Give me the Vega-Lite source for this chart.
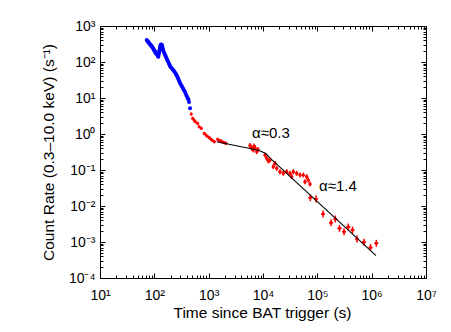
{
  "$schema": "https://vega.github.io/schema/vega-lite/v6.json",
  "width": 326,
  "height": 252,
  "autosize": "none",
  "padding": {"left": 100, "top": 26, "right": 25, "bottom": 54},
  "background": "white",
  "config": {
    "view": {"stroke": "black", "strokeWidth": 1},
    "font": "Liberation Sans",
    "axis": {
      "labelFont": "Liberation Sans", "labelFontSize": 14, "labelColor": "black",
      "titleFont": "Liberation Sans", "titleFontSize": 15.5, "titleFontWeight": "normal", "titleColor": "black",
      "tickColor": "black", "tickWidth": 1, "grid": false, "domain": false,
      "labelOverlap": false, "labelFlush": false, "labelBound": false
    }
  },
  "datasets": {
    "blue": [
      {"t": 72.4, "r": 408}, {"t": 74.5, "r": 390}, {"t": 76.5, "r": 371}, {"t": 78.0, "r": 352}, {"t": 79.8, "r": 337}, {"t": 82.0, "r": 318}, {"t": 85.0, "r": 306},
      {"t": 86.8, "r": 288}, {"t": 88.7, "r": 278}, {"t": 91.0, "r": 262}, {"t": 93.3, "r": 253}, {"t": 96.0, "r": 230}, {"t": 98.6, "r": 215}, {"t": 100.6, "r": 205}, {"t": 102.8, "r": 196},
      {"t": 105.0, "r": 182}, {"t": 107.3, "r": 172}, {"t": 111.0, "r": 163}, {"t": 114.4, "r": 156}, {"t": 116.3, "r": 147}, {"t": 118.3, "r": 140}, {"t": 120.1, "r": 158}, {"t": 121.9, "r": 178},
      {"t": 123.2, "r": 196}, {"t": 124.5, "r": 215}, {"t": 126.6, "r": 246}, {"t": 128.8, "r": 278}, {"t": 130.7, "r": 294}, {"t": 132.7, "r": 306}, {"t": 135.6, "r": 302}, {"t": 138.5, "r": 297},
      {"t": 140.5, "r": 265}, {"t": 142.6, "r": 237}, {"t": 145.0, "r": 215}, {"t": 147.5, "r": 196}, {"t": 151.3, "r": 181}, {"t": 155.2, "r": 167}, {"t": 159.5, "r": 152}, {"t": 164, "r": 138},
      {"t": 168.4, "r": 125}, {"t": 173, "r": 114}, {"t": 178.5, "r": 104}, {"t": 184, "r": 93.8}, {"t": 189, "r": 85.0}, {"t": 194, "r": 77.4}, {"t": 202, "r": 71.2}, {"t": 211, "r": 65.9},
      {"t": 220, "r": 61.0}, {"t": 230, "r": 56.2}, {"t": 240, "r": 51.0}, {"t": 250, "r": 46.4}, {"t": 258, "r": 42.0}, {"t": 267, "r": 38.3}, {"t": 274, "r": 34.8}, {"t": 281, "r": 31.6},
      {"t": 289, "r": 28.8}, {"t": 297, "r": 26.1}, {"t": 308, "r": 23.6}, {"t": 319, "r": 21.5}, {"t": 330, "r": 19.6}, {"t": 341, "r": 17.8}, {"t": 354, "r": 16.1}, {"t": 367, "r": 14.7},
      {"t": 380, "r": 12.9}, {"t": 394, "r": 11.4}, {"t": 408, "r": 10.2}, {"t": 422, "r": 9.2}, {"t": 435, "r": 7.74}, {"t": 454, "r": 5.18}
    ],
    "red": [
      {"t": 479, "r": 3.59, "tlo": 465, "thi": 493, "rlo": 3.26, "rhi": 3.95},
      {"t": 508, "r": 2.73, "tlo": 493, "thi": 523, "rlo": 2.48, "rhi": 3.0},
      {"t": 537, "r": 2.45, "tlo": 521, "thi": 553, "rlo": 2.23, "rhi": 2.7},
      {"t": 567, "r": 2.2, "tlo": 550, "thi": 584, "rlo": 2.0, "rhi": 2.42},
      {"t": 626, "r": 1.98, "tlo": 608, "thi": 645, "rlo": 1.8, "rhi": 2.18},
      {"t": 670, "r": 1.6, "tlo": 650, "thi": 690, "rlo": 1.45, "rhi": 1.76},
      {"t": 733, "r": 1.44, "tlo": 712, "thi": 755, "rlo": 1.31, "rhi": 1.58},
      {"t": 831, "r": 1.04, "tlo": 807, "thi": 856, "rlo": 0.945, "rhi": 1.14},
      {"t": 893, "r": 0.938, "tlo": 867, "thi": 920, "rlo": 0.853, "rhi": 1.03},
      {"t": 953, "r": 0.853, "tlo": 925, "thi": 982, "rlo": 0.775, "rhi": 0.938},
      {"t": 1028, "r": 0.789, "tlo": 998, "thi": 1059, "rlo": 0.717, "rhi": 0.868},
      {"t": 1105, "r": 0.712, "tlo": 1073, "thi": 1138, "rlo": 0.647, "rhi": 0.783},
      {"t": 1178, "r": 0.66, "tlo": 1144, "thi": 1213, "rlo": 0.6, "rhi": 0.726},
      {"t": 1270, "r": 0.611, "tlo": 1233, "thi": 1308, "rlo": 0.555, "rhi": 0.672},
      {"t": 1466, "r": 0.712, "tlo": 1423, "thi": 1510, "rlo": 0.647, "rhi": 0.783},
      {"t": 1582, "r": 0.66, "tlo": 1536, "thi": 1629, "rlo": 0.6, "rhi": 0.726},
      {"t": 1687, "r": 0.639, "tlo": 1638, "thi": 1738, "rlo": 0.581, "rhi": 0.703},
      {"t": 1798, "r": 0.6, "tlo": 1746, "thi": 1852, "rlo": 0.545, "rhi": 0.66},
      {"t": 1940, "r": 0.574, "tlo": 1883, "thi": 1998, "rlo": 0.522, "rhi": 0.631},
      {"t": 2084, "r": 0.552, "tlo": 2023, "thi": 2147, "rlo": 0.502, "rhi": 0.607},
      {"t": 5768, "r": 0.48, "tlo": 5411, "thi": 6149, "rlo": 0.41, "rhi": 0.562},
      {"t": 6196, "r": 0.401, "tlo": 5812, "thi": 6605, "rlo": 0.343, "rhi": 0.469},
      {"t": 6640, "r": 0.36, "tlo": 6229, "thi": 7078, "rlo": 0.308, "rhi": 0.421},
      {"t": 6830, "r": 0.464, "tlo": 6407, "thi": 7281, "rlo": 0.397, "rhi": 0.543},
      {"t": 7126, "r": 0.416, "tlo": 6685, "thi": 7596, "rlo": 0.356, "rhi": 0.487},
      {"t": 7657, "r": 0.322, "tlo": 7183, "thi": 8162, "rlo": 0.275, "rhi": 0.377},
      {"t": 8090, "r": 0.371, "tlo": 7589, "thi": 8624, "rlo": 0.317, "rhi": 0.434},
      {"t": 10890, "r": 0.261, "tlo": 10216, "thi": 11609, "rlo": 0.223, "rhi": 0.305},
      {"t": 11700, "r": 0.211, "tlo": 10976, "thi": 12472, "rlo": 0.18, "rhi": 0.247},
      {"t": 12530, "r": 0.178, "tlo": 11754, "thi": 13357, "rlo": 0.152, "rhi": 0.208},
      {"t": 13460, "r": 0.19, "tlo": 12627, "thi": 14348, "rlo": 0.162, "rhi": 0.222},
      {"t": 15480, "r": 0.124, "tlo": 14522, "thi": 16502, "rlo": 0.106, "rhi": 0.145},
      {"t": 16630, "r": 0.153, "tlo": 15600, "thi": 17728, "rlo": 0.131, "rhi": 0.179},
      {"t": 17870, "r": 0.111, "tlo": 16764, "thi": 19049, "rlo": 0.0949, "rhi": 0.13},
      {"t": 20540, "r": 0.0898, "tlo": 19268, "thi": 21896, "rlo": 0.0768, "rhi": 0.105},
      {"t": 23640, "r": 0.081, "tlo": 22176, "thi": 25200, "rlo": 0.0692, "rhi": 0.0948},
      {"t": 27290, "r": 0.0898, "tlo": 25600, "thi": 29091, "rlo": 0.0768, "rhi": 0.105},
      {"t": 31400, "r": 0.081, "tlo": 29456, "thi": 33472, "rlo": 0.0692, "rhi": 0.0948},
      {"t": 33730, "r": 0.0652, "tlo": 31642, "thi": 35956, "rlo": 0.0557, "rhi": 0.0763},
      {"t": 36140, "r": 0.0898, "tlo": 33902, "thi": 38525, "rlo": 0.0768, "rhi": 0.105},
      {"t": 41620, "r": 0.081, "tlo": 39043, "thi": 44367, "rlo": 0.0692, "rhi": 0.0948},
      {"t": 47940, "r": 0.0726, "tlo": 44972, "thi": 51104, "rlo": 0.0621, "rhi": 0.0849},
      {"t": 55180, "r": 0.0726, "tlo": 51764, "thi": 58822, "rlo": 0.0621, "rhi": 0.0849},
      {"t": 59290, "r": 0.0473, "tlo": 55619, "thi": 63203, "rlo": 0.0404, "rhi": 0.0553},
      {"t": 63630, "r": 0.0652, "tlo": 59690, "thi": 67830, "rlo": 0.0557, "rhi": 0.0763},
      {"t": 68100, "r": 0.0527, "tlo": 63884, "thi": 72595, "rlo": 0.045, "rhi": 0.0617},
      {"t": 73300, "r": 0.0408, "tlo": 68762, "thi": 78138, "rlo": 0.0349, "rhi": 0.0477},
      {"t": 74250, "r": 0.017, "tlo": 68119, "thi": 80933, "rlo": 0.0136, "rhi": 0.0213},
      {"t": 94600, "r": 0.0156, "tlo": 86789, "thi": 103114, "rlo": 0.0125, "rhi": 0.0195},
      {"t": 127400, "r": 0.006, "tlo": 116881, "thi": 138866, "rlo": 0.0048, "rhi": 0.0075},
      {"t": 178700, "r": 0.00344, "tlo": 163945, "thi": 194783, "rlo": 0.00275, "rhi": 0.0043},
      {"t": 214500, "r": 0.00436, "tlo": 196789, "thi": 233805, "rlo": 0.00349, "rhi": 0.00545},
      {"t": 256000, "r": 0.0024, "tlo": 234862, "thi": 279040, "rlo": 0.00192, "rhi": 0.003},
      {"t": 309600, "r": 0.00193, "tlo": 284037, "thi": 337464, "rlo": 0.00154, "rhi": 0.00241},
      {"t": 371500, "r": 0.00261, "tlo": 340826, "thi": 404935, "rlo": 0.00209, "rhi": 0.00326},
      {"t": 443900, "r": 0.00215, "tlo": 407248, "thi": 483851, "rlo": 0.00172, "rhi": 0.00269},
      {"t": 537000, "r": 0.00121, "tlo": 492661, "thi": 585330, "rlo": 0.00097, "rhi": 0.00151},
      {"t": 722000, "r": 0.000987, "tlo": 662385, "thi": 786980, "rlo": 0.00079, "rhi": 0.00123},
      {"t": 952000, "r": 0.000703, "tlo": 873394, "thi": 1037680, "rlo": 0.000562, "rhi": 0.000879},
      {"t": 1218000, "r": 0.000921, "tlo": 1117431, "thi": 1327620, "rlo": 0.000737, "rhi": 0.00115}
    ],
    "fit": [
      {"t": 1406, "r": 0.611}, {"t": 3776, "r": 0.45}, {"t": 7130, "r": 0.371},
      {"t": 9190, "r": 0.333}, {"t": 11350, "r": 0.282}, {"t": 14650, "r": 0.19},
      {"t": 1202000, "r": 0.000416}
    ],
    "notes": [
      {"t": 6280, "r": 1.07, "label": "α≈0.3"},
      {"t": 107400, "r": 0.0359, "label": "α≈1.4"}
    ]
  },
  "layer": [
    {
      "data": {"name": "blue"},
      "mark": {"type": "circle", "color": "#0000ff", "opacity": 1, "size": 16},
      "encoding": {
        "x": {
          "field": "t", "type": "quantitative",
          "scale": {"type": "log", "domain": [10, 10000000], "nice": false},
          "axis": {
            "orient": "bottom",
            "title": "Time since BAT trigger (s)",
            "titleX": 162, "titleY": 39, "titleBaseline": "alphabetic", "titleAlign": "center",
            "values": [10,20,30,40,50,60,70,80,90,100,200,300,400,500,600,700,800,900,1000,2000,3000,4000,5000,6000,7000,8000,9000,10000,20000,30000,40000,50000,60000,70000,80000,90000,100000,200000,300000,400000,500000,600000,700000,800000,900000,1000000,2000000,3000000,4000000,5000000,6000000,7000000,8000000,9000000,10000000],
            "tickSize": {"condition": {"test": "abs(log(datum.value)/LN10 - round(log(datum.value)/LN10)) < 0.001", "value": -5}, "value": -3},
            "labelPadding": 15,
            "labelExpr": "abs(log(datum.value)/LN10 - round(log(datum.value)/LN10)) < 0.001 ? '10' + ['⁰','¹','²','³','⁴','⁵','⁶','⁷'][round(log(datum.value)/LN10)] : ''"
          }
        },
        "y": {
          "field": "r", "type": "quantitative",
          "scale": {"type": "log", "domain": [0.0001, 1000], "nice": false},
          "axis": {
            "orient": "left",
            "title": "Count Rate (0.3–10.0 keV) (s⁻¹)",
            "titleX": -47, "titleY": 126, "titleAngle": -90, "titleBaseline": "alphabetic", "titleAlign": "center",
            "values": [0.0001,0.0002,0.0003,0.0004,0.0005,0.0006,0.0007,0.0008,0.0009,0.001,0.002,0.003,0.004,0.005,0.006,0.007,0.008,0.009,0.01,0.02,0.03,0.04,0.05,0.06,0.07,0.08,0.09,0.1,0.2,0.3,0.4,0.5,0.6,0.7,0.8,0.9,1,2,3,4,5,6,7,8,9,10,20,30,40,50,60,70,80,90,100,200,300,400,500,600,700,800,900,1000],
            "tickSize": {"condition": {"test": "abs(log(datum.value)/LN10 - round(log(datum.value)/LN10)) < 0.001", "value": -5}, "value": -3},
            "labelPadding": 10,
            "labelExpr": "abs(log(datum.value)/LN10 - round(log(datum.value)/LN10)) < 0.001 ? '10' + (round(log(datum.value)/LN10) < 0 ? '⁻' : '') + ['⁰','¹','²','³','⁴'][abs(round(log(datum.value)/LN10))] : ''"
          }
        }
      }
    },
    {
      "data": {"name": "red"},
      "mark": {"type": "rule", "color": "#ff0000", "strokeWidth": 1.5},
      "encoding": {
        "x": {"field": "t", "type": "quantitative", "scale": {"type": "log", "domain": [10, 10000000], "nice": false}, "axis": null},
        "y": {"field": "rlo", "type": "quantitative", "scale": {"type": "log", "domain": [0.0001, 1000], "nice": false}, "axis": null},
        "y2": {"field": "rhi"}
      }
    },
    {
      "data": {"name": "red"},
      "mark": {"type": "rule", "color": "#ff0000", "strokeWidth": 1.5},
      "encoding": {
        "x": {"field": "tlo", "type": "quantitative", "scale": {"type": "log", "domain": [10, 10000000], "nice": false}, "axis": null},
        "x2": {"field": "thi"},
        "y": {"field": "r", "type": "quantitative", "scale": {"type": "log", "domain": [0.0001, 1000], "nice": false}, "axis": null}
      }
    },
    {
      "data": {"name": "red"},
      "mark": {"type": "circle", "color": "#ff0000", "opacity": 1, "size": 10},
      "encoding": {
        "x": {"field": "t", "type": "quantitative", "scale": {"type": "log", "domain": [10, 10000000], "nice": false}, "axis": null},
        "y": {"field": "r", "type": "quantitative", "scale": {"type": "log", "domain": [0.0001, 1000], "nice": false}, "axis": null}
      }
    },
    {
      "data": {"name": "notes"},
      "mark": {"type": "text", "align": "left", "baseline": "middle", "font": "Liberation Sans", "fontSize": 15, "color": "black"},
      "encoding": {
        "x": {"field": "t", "type": "quantitative", "scale": {"type": "log", "domain": [10, 10000000], "nice": false}, "axis": null},
        "y": {"field": "r", "type": "quantitative", "scale": {"type": "log", "domain": [0.0001, 1000], "nice": false}, "axis": null},
        "text": {"field": "label"}
      }
    },
    {
      "data": {"name": "fit"},
      "mark": {"type": "line", "color": "black", "strokeWidth": 1.1},
      "encoding": {
        "x": {
          "field": "t", "type": "quantitative",
          "scale": {"type": "log", "domain": [10, 10000000], "nice": false},
          "axis": {
            "orient": "top", "title": null, "labels": false,
            "values": [10,20,30,40,50,60,70,80,90,100,200,300,400,500,600,700,800,900,1000,2000,3000,4000,5000,6000,7000,8000,9000,10000,20000,30000,40000,50000,60000,70000,80000,90000,100000,200000,300000,400000,500000,600000,700000,800000,900000,1000000,2000000,3000000,4000000,5000000,6000000,7000000,8000000,9000000,10000000],
            "tickSize": {"condition": {"test": "abs(log(datum.value)/LN10 - round(log(datum.value)/LN10)) < 0.001", "value": -5}, "value": -3}
          }
        },
        "y": {
          "field": "r", "type": "quantitative",
          "scale": {"type": "log", "domain": [0.0001, 1000], "nice": false},
          "axis": {
            "orient": "right", "title": null, "labels": false,
            "values": [0.0001,0.0002,0.0003,0.0004,0.0005,0.0006,0.0007,0.0008,0.0009,0.001,0.002,0.003,0.004,0.005,0.006,0.007,0.008,0.009,0.01,0.02,0.03,0.04,0.05,0.06,0.07,0.08,0.09,0.1,0.2,0.3,0.4,0.5,0.6,0.7,0.8,0.9,1,2,3,4,5,6,7,8,9,10,20,30,40,50,60,70,80,90,100,200,300,400,500,600,700,800,900,1000],
            "tickSize": {"condition": {"test": "abs(log(datum.value)/LN10 - round(log(datum.value)/LN10)) < 0.001", "value": -5}, "value": -3}
          }
        }
      }
    }
  ],
  "resolve": {"axis": {"x": "independent", "y": "independent"}}
}
